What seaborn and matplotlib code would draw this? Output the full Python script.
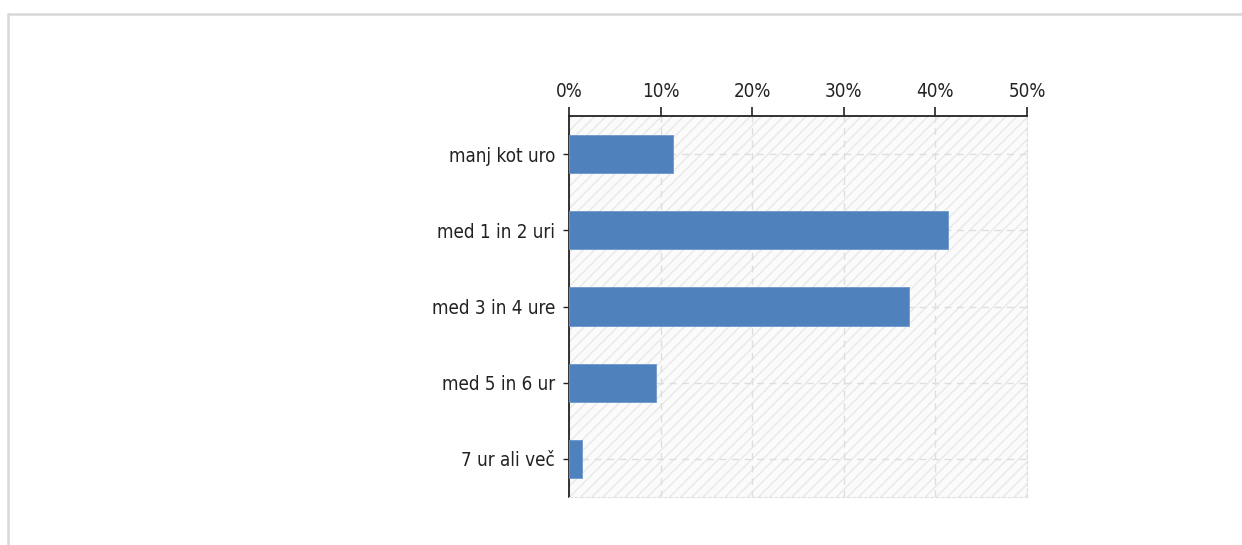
import matplotlib
matplotlib.use("Agg")
import matplotlib.pyplot as plt
import seaborn as sns
import pandas as pd
from matplotlib.patches import Rectangle
from matplotlib.lines import Line2D
from matplotlib.ticker import FuncFormatter

categories = ["manj kot uro", "med 1 in 2 uri", "med 3 in 4 ure", "med 5 in 6 ur", "7 ur ali več"]
shares = [11.4, 41.4, 37.1, 9.5, 1.4]
xticks = [0, 10, 20, 30, 40, 50]

sns.set_style("white")
plt.rcParams["font.family"] = ["DejaVu Sans"]
plt.rcParams["font.stretch"] = "condensed"
plt.rcParams["hatch.color"] = "#e8e8e8"

df = pd.DataFrame({"answer": categories, "share": shares})

fig = plt.figure(figsize=(12.42, 5.45), dpi=100)
ax = fig.add_axes([569 / 1242, 1 - 497 / 545, 458 / 1242, 381 / 545])

# hatched light background
ax.add_patch(Rectangle((0, 0), 1, 1, transform=ax.transAxes, facecolor="#fbfbfb",
                       edgecolor="#e8e8e8", hatch="///", linewidth=0, zorder=0))

sns.barplot(data=df, x="share", y="answer", color="#4f81bd", width=0.5,
            saturation=1, ax=ax, zorder=3, edgecolor="#6d97cc", linewidth=0.6)

ax.set_xlim(0, 50)
ax.set_ylim(4.5, -0.5)
ax.set_xticks(xticks)
ax.xaxis.set_major_formatter(FuncFormatter(lambda v, p: f"{v:.0f}%"))
ax.xaxis.tick_top()
ax.set_xlabel("")
ax.set_ylabel("")

ax.grid(True, color="#dedede", linestyle=(0, (5, 4)), linewidth=1)
ax.set_axisbelow(True)

ax.spines["top"].set_color("#222222")
ax.spines["top"].set_linewidth(1.3)
ax.spines["left"].set_color("#222222")
ax.spines["left"].set_linewidth(1.3)
for s in ["right", "bottom"]:
    ax.spines[s].set_color("#e0e0e0")
    ax.spines[s].set_linestyle((0, (3, 2)))

ax.tick_params(axis="x", top=True, bottom=False, direction="out", length=6.5, width=1.2,
               color="#222222", labelsize=13.5, pad=4, labelcolor="#222222")
ax.tick_params(axis="y", left=True, direction="out", length=4, width=1,
               color="#222222", labelsize=13.5, pad=6, labelcolor="#222222")

# outer frame of the page
fig.add_artist(Line2D([8 / 1242, 8 / 1242], [0, 1 - 13.5 / 545], transform=fig.transFigure,
                      color="#d8d8d8", linewidth=1.8))
fig.add_artist(Line2D([8 / 1242, 1], [1 - 13.5 / 545, 1 - 13.5 / 545], transform=fig.transFigure,
                      color="#d8d8d8", linewidth=1.8))

fig.savefig("out.png", dpi=100)
